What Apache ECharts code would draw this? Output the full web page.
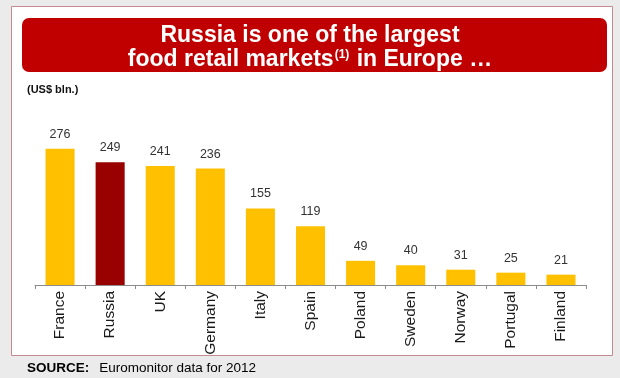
<!DOCTYPE html>
<html>
  <head>
    <meta charset="UTF-8" />
    <title></title>
    <style type="text/css">
      * {
        margin: 0;
        padding: 0;
      }
      body {
        background-color: #ebebeb;
      }
      #main {
        width: 620px;
        height: 378px;
      }
    </style>
  </head>
  <body>
    <div id="main"></div>
  </body>
  <script src="https://cdn.jsdelivr.net/npm/echarts@6/dist/echarts.min.js"></script>
  <script type="text/javascript">
    // 数据
    var countries = ['France', 'Russia', 'UK', 'Germany', 'Italy', 'Spain', 'Poland', 'Sweden', 'Norway', 'Portugal', 'Finland']
    var values = [276, 249, 241, 236, 155, 119, 49, 40, 31, 25, 21]
    var highlight = 'Russia'

    var gold = '#ffc000'
    var darkRed = '#990000'
    var font = 'Liberation Sans, Arial, sans-serif'

    var barData = values.map(function (v, i) {
      return {
        value: v,
        itemStyle: { color: countries[i] === highlight ? darkRed : gold }
      }
    })

    var myCharts = echarts.init(document.getElementById('main'))
    var option = {
      backgroundColor: '#ebebeb',
      animation: false,
      title: {
        text: '{a|Russia is one of the largest}\n{a|food retail markets}{s|(1)}{a| in Europe …}',
        left: 'center',
        top: 24,
        padding: 0,
        textStyle: {
          rich: {
            a: { fontSize: 23, fontWeight: 'bold', color: '#fff', fontFamily: font, lineHeight: 24 },
            s: { fontSize: 12, fontWeight: 'bold', color: '#fff', fontFamily: font, padding: [0, 1, 11, 1] }
          }
        }
      },
      graphic: [
        {
          type: 'rect',
          z: -10,
          shape: { x: 11.5, y: 6.5, width: 601, height: 349 },
          style: { fill: '#fff', stroke: '#c48a92', lineWidth: 1 }
        },
        {
          type: 'rect',
          z: -5,
          shape: { x: 22, y: 18, width: 585, height: 54, r: 7 },
          style: { fill: '#c00000' }
        },
        {
          type: 'text',
          left: 27,
          top: 84,
          style: { text: '(US$ bln.)', font: 'bold 11px ' + font, fill: '#111' }
        },
        {
          type: 'text',
          left: 27,
          top: 361,
          style: {
            text: '{b|SOURCE:}   {n|Euromonitor data for 2012}',
            rich: {
              b: { fontSize: 13.5, fontWeight: 'bold', fontFamily: font, color: '#111' },
              n: { fontSize: 13.5, fontFamily: font, color: '#111' }
            }
          }
        }
      ],
      grid: {
        left: 35,
        right: 34,
        top: 137,
        bottom: 93
      },
      xAxis: {
        type: 'category',
        data: countries,
        axisLine: { lineStyle: { color: '#8c8c8c', width: 1 } },
        axisTick: { show: true, length: 4, lineStyle: { color: '#8c8c8c' } },
        axisLabel: {
          rotate: 90,
          interval: 0,
          margin: 6,
          fontSize: 15.5,
          color: '#1a1a1a',
          fontFamily: font
        }
      },
      yAxis: {
        type: 'value',
        min: 0,
        max: 300,
        show: false,
        splitLine: { show: false }
      },
      series: [
        {
          type: 'bar',
          data: barData,
          barWidth: '58%',
          label: {
            show: true,
            position: 'top',
            distance: 8,
            fontSize: 12.5,
            color: '#333',
            fontFamily: font
          }
        }
      ]
    }
    myCharts.setOption(option)
  </script>
</html>
